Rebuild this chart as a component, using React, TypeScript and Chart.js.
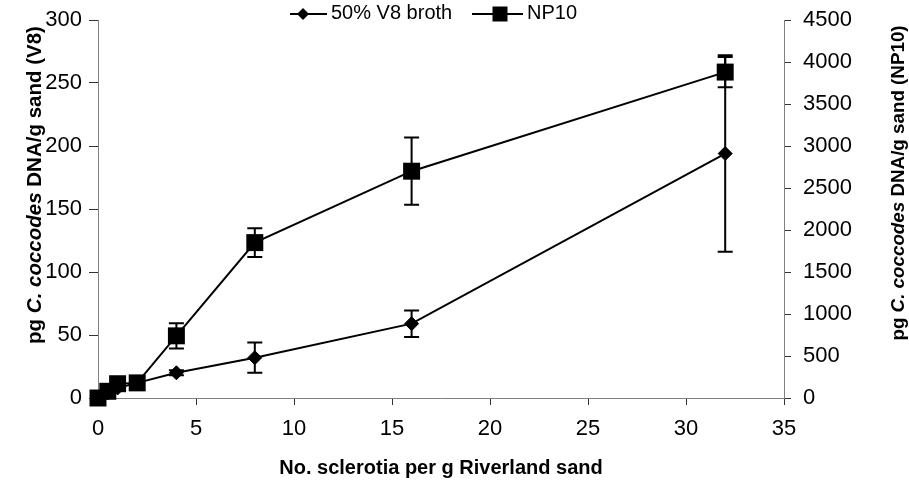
import React, { useEffect, useRef } from 'react';
import { Chart, registerables } from 'chart.js';

Chart.register(...registerables);

// Sclerotia density (x) and DNA recovered for the two inoculum types
const sclerotia = [0, 0.5, 1, 2, 4, 8, 16, 32];
const v8Dna = [0, 4, 8, 12, 20, 32, 59, 194];
const v8Err = [0, 1, 1, 2, 2, 12, 10.5, 78];
const np10Dna = [0, 80, 170, 180, 740, 1850, 2700, 3880];
const np10Err = [0, 10, 15, 20, 150, 170, 400, 180];

const v8Label = '50% V8 broth';
const np10Label = 'NP10';
const xTitle = 'No. sclerotia per g Riverland sand';
const yTitleParts = ['pg ', 'C. coccodes', ' DNA/g sand (V8)'];
const y2TitleParts = ['pg ', 'C. coccodes', ' DNA/g sand (NP10)'];

const FONT = '"Liberation Sans", Arial, Helvetica, sans-serif';

function drawRich(
  ctx: CanvasRenderingContext2D,
  parts: string[],
  fonts: string[],
  cx: number,
  cy: number,
  rotate: boolean
) {
  ctx.save();
  ctx.translate(cx, cy);
  if (rotate) ctx.rotate(-Math.PI / 2);
  ctx.fillStyle = '#000';
  ctx.textBaseline = 'alphabetic';
  ctx.textAlign = 'left';
  const widths = parts.map((p, i) => {
    ctx.font = fonts[i];
    return ctx.measureText(p).width;
  });
  const total = widths.reduce((a, b) => a + b, 0);
  let x = -total / 2;
  parts.forEach((p, i) => {
    ctx.font = fonts[i];
    ctx.fillText(p, x, 0);
    x += widths[i];
  });
  ctx.restore();
}

function drawDiamond(ctx: CanvasRenderingContext2D, x: number, y: number, r: number) {
  ctx.beginPath();
  ctx.moveTo(x, y - r);
  ctx.lineTo(x + r, y);
  ctx.lineTo(x, y + r);
  ctx.lineTo(x - r, y);
  ctx.closePath();
  ctx.fill();
}

const errorBarsPlugin = {
  id: 'errorBars',
  beforeDatasetsDraw(chart: any) {
    const ctx = chart.ctx as CanvasRenderingContext2D;
    const xScale = chart.scales.x;
    chart.data.datasets.forEach((ds: any, i: number) => {
      const meta = chart.getDatasetMeta(i);
      const yScale = chart.scales[meta.yAxisID];
      const errs: number[] = ds.errors || [];
      ctx.save();
      ctx.strokeStyle = '#000';
      ctx.lineWidth = 2;
      ds.data.forEach((pt: any, j: number) => {
        const e = errs[j];
        if (!e) return;
        const x = xScale.getPixelForValue(pt.x);
        const yT = yScale.getPixelForValue(pt.y + e);
        const yB = yScale.getPixelForValue(pt.y - e);
        const cap = 7.5;
        ctx.beginPath();
        ctx.moveTo(x, yT);
        ctx.lineTo(x, yB);
        ctx.moveTo(x - cap, yT);
        ctx.lineTo(x + cap, yT);
        ctx.moveTo(x - cap, yB);
        ctx.lineTo(x + cap, yB);
        ctx.stroke();
      });
      ctx.restore();
    });
  },
};

const titleFonts = (size: number) => [
  `bold ${size}px ${FONT}`,
  `italic bold ${size}px ${FONT}`,
  `bold ${size}px ${FONT}`,
];

const annotationsPlugin = {
  id: 'annotations',
  afterDraw(chart: any) {
    const ctx = chart.ctx as CanvasRenderingContext2D;
    const area = chart.chartArea;

    // axis titles
    drawRich(ctx, [xTitle], [`bold 20px ${FONT}`], (area.left + area.right) / 2, 474, false);
    drawRich(ctx, yTitleParts, titleFonts(20.5), 41, area.top + 165, true);
    drawRich(ctx, y2TitleParts, titleFonts(18.8), 904, area.top + 163, true);

    // legend: line sample with marker, then label
    ctx.save();
    ctx.strokeStyle = '#000';
    ctx.fillStyle = '#000';
    ctx.lineWidth = 2;
    const ly = 14;
    ctx.beginPath();
    ctx.moveTo(290, ly);
    ctx.lineTo(327, ly);
    ctx.stroke();
    drawDiamond(ctx, 303, ly, 6);
    ctx.beginPath();
    ctx.moveTo(472, ly);
    ctx.lineTo(523, ly);
    ctx.stroke();
    ctx.fillRect(500 - 7.5, ly - 7.5, 15, 15);
    ctx.font = `20px ${FONT}`;
    ctx.textBaseline = 'alphabetic';
    ctx.textAlign = 'left';
    ctx.fillText(v8Label, 331, 19);
    ctx.fillText(np10Label, 527, 19);
    ctx.restore();
  },
};

const plain = (v: number | string) => String(v);

export default function App() {
  const canvasRef = useRef<HTMLCanvasElement | null>(null);

  useEffect(() => {
    const canvas = canvasRef.current;
    if (!canvas) return;

    const tickFont = { family: FONT, size: 22 };

    const chart = new Chart(canvas, {
      type: 'line',
      data: {
        datasets: [
          {
            label: v8Label,
            data: sclerotia.map((x, i) => ({ x, y: v8Dna[i] })),
            errors: v8Err,
            yAxisID: 'y',
            borderColor: '#000',
            backgroundColor: '#000',
            borderWidth: 2,
            tension: 0,
            pointStyle: 'rectRot',
            pointRadius: 7,
            pointBorderWidth: 1,
            pointBackgroundColor: '#000',
            pointBorderColor: '#000',
            clip: false,
            order: 1,
          } as any,
          {
            label: np10Label,
            data: sclerotia.map((x, i) => ({ x, y: np10Dna[i] })),
            errors: np10Err,
            yAxisID: 'y1',
            borderColor: '#000',
            backgroundColor: '#000',
            borderWidth: 2,
            tension: 0,
            pointStyle: 'rect',
            pointRadius: 12,
            pointBorderWidth: 0,
            pointBackgroundColor: '#000',
            pointBorderColor: '#000',
            clip: false,
            order: 0,
          } as any,
        ],
      },
      options: {
        responsive: false,
        animation: false,
        devicePixelRatio: 1,
        layout: { padding: { top: 20, left: 0, right: 0, bottom: 0 } },
        plugins: {
          legend: { display: false },
          tooltip: { enabled: false },
        },
        scales: {
          x: {
            type: 'linear',
            min: 0,
            max: 35,
            ticks: { stepSize: 5, color: '#000', font: tickFont, padding: 11, maxRotation: 0, callback: plain },
            grid: { drawOnChartArea: false, tickLength: 7, tickColor: '#333', tickWidth: 1 },
            border: { color: '#808080', width: 1 },
            afterFit: (s: any) => {
              s.height = 84;
              s.paddingLeft = 0;
              s.paddingRight = 0;
            },
          },
          y: {
            type: 'linear',
            position: 'left',
            min: 0,
            max: 300,
            ticks: { stepSize: 50, color: '#000', font: tickFont, padding: 7, callback: plain },
            grid: { drawOnChartArea: false, tickLength: 9, tickColor: '#333', tickWidth: 1 },
            border: { color: '#808080', width: 1 },
            afterFit: (s: any) => {
              s.width = 98;
              s.paddingTop = 0;
              s.paddingBottom = 0;
            },
          },
          y1: {
            type: 'linear',
            position: 'right',
            min: 0,
            max: 4500,
            ticks: { stepSize: 500, color: '#000', font: tickFont, padding: 12, callback: plain },
            grid: { drawOnChartArea: false, tickLength: 7, tickColor: '#333', tickWidth: 1 },
            border: { color: '#808080', width: 1 },
            afterFit: (s: any) => {
              s.width = 125;
              s.paddingTop = 0;
              s.paddingBottom = 0;
            },
          },
        },
      },
      plugins: [errorBarsPlugin, annotationsPlugin],
    } as any);

    return () => chart.destroy();
  }, []);

  return (
    <div style={{ position: 'fixed', left: 0, top: 0, width: 909, height: 482, background: '#fff' }}>
      <canvas ref={canvasRef} width={909} height={482} />
    </div>
  );
}
